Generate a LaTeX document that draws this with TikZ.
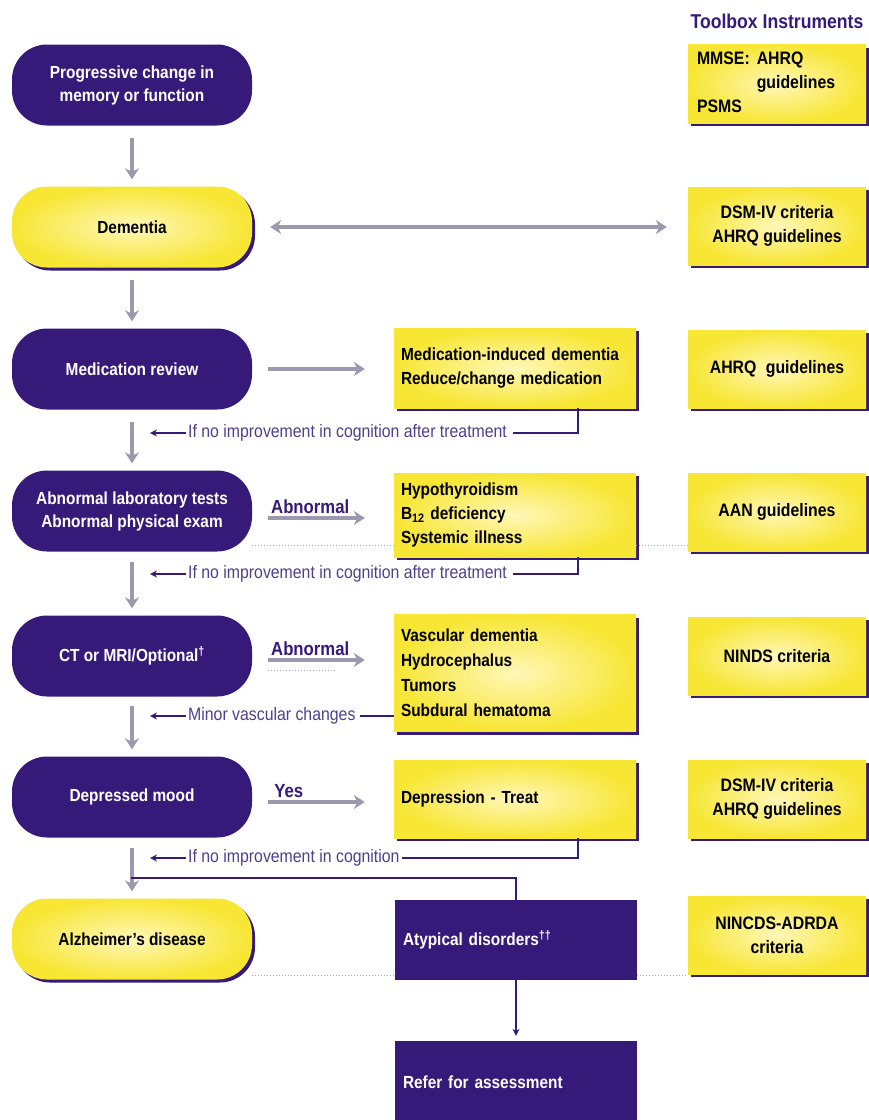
\documentclass[tikz,border=0pt]{standalone}
\usepackage{fontspec}
\setmainfont{Liberation Sans}[FakeStretch=0.88]
\usetikzlibrary{arrows.meta,shadows,calc}
\definecolor{pur}{HTML}{361A7A}
\definecolor{yel}{HTML}{F7E634}
\definecolor{yelc}{HTML}{FFF7B8}
\definecolor{garr}{HTML}{9C98AE}
\definecolor{fbc}{HTML}{4E3F8C}
\definecolor{dotc}{HTML}{A8A4C0}
\tikzset{
  fsize/.style={font=\bfseries\fontsize{17.5}{23}\selectfont},
  pbox/.style={rounded corners=35pt, fill=pur, text=white, minimum width=240pt, minimum height=81pt, align=center, fsize},
  ybox/.style={rounded corners=35pt, inner color=yelc, outer color=yel, text=black, minimum width=240pt, minimum height=81pt, align=center, fsize,
    drop shadow={shadow xshift=3pt, shadow yshift=-3pt, fill=pur, opacity=1}},
  midbox/.style={inner color=yelc, outer color=yel, text=black, text width=228pt, inner xsep=7pt, align=left,
    font=\bfseries\fontsize{17.5}{24}\selectfont,
    drop shadow={shadow xshift=3pt, shadow yshift=-3pt, fill=pur, opacity=1}},
  pmid/.style={fill=pur, text=white, text width=226pt, inner xsep=8pt, align=left, minimum height=80pt, fsize},
  tbox/.style={inner color=yelc, outer color=yel, text=black, minimum width=178pt, minimum height=78pt, align=center,
    font=\bfseries\fontsize{18}{24}\selectfont,
    drop shadow={shadow xshift=3pt, shadow yshift=-3pt, fill=pur, opacity=1}},
  garrow/.style={draw=garr, line width=3.2pt, -{Stealth[length=11pt,width=14pt]}},
  gdarrow/.style={draw=garr, line width=3.2pt, {Stealth[length=11pt,width=14pt]}-{Stealth[length=11pt,width=14pt]}},
  fb/.style={draw=pur, line width=1.4pt},
  fbarr/.style={draw=pur, line width=1.4pt, -{Stealth[length=7pt,width=7pt]}},
  fbl/.style={text=fbc, font=\fontsize{18}{19}\selectfont, inner sep=2pt},
  lbl/.style={text=pur, font=\bfseries\fontsize{19}{22}\selectfont, inner sep=1pt},
  dotline/.style={draw=dotc, line width=1pt, dotted},
}
\begin{document}
\begin{tikzpicture}[x=1pt,y=-1pt]
\useasboundingbox (0,0) rectangle (869,1120);
% title
\node[text=pur, font=\bfseries\fontsize{20}{24}\selectfont] (title) at (777,21) {Toolbox Instruments};
% left column
\node[pbox] (n1) at (132,85) {Progressive change in\\memory or function};
\node[ybox] (dem) at (132,227) {Dementia};
\node[pbox] (medrev) at (132,369) {Medication review};
\node[pbox] (lab) at (132,511) {Abnormal laboratory tests\\Abnormal physical exam};
\node[pbox] (ct) at (132,656) {CT or MRI/Optional\textsuperscript{†}};
\node[pbox] (dep) at (132,797) {Depressed mood};
\node[ybox] (alz) at (132,939) {Alzheimer's disease};
% middle column
\node[midbox, minimum height=80pt] (mid1) at (515,368) {Medication-induced dementia\\Reduce/change medication};
\node[midbox, minimum height=84pt] (mid2) at (515,515) {Hypothyroidism\\B\textsubscript{12} deficiency\\Systemic illness};
\node[midbox, minimum height=117pt, font=\bfseries\fontsize{17.5}{25}\selectfont] (mid3) at (515,673) {Vascular dementia\\Hydrocephalus\\Tumors\\Subdural hematoma};
\node[midbox, minimum height=78pt] (mid4) at (515,799) {Depression - Treat};
\node[pmid] (atyp) at (516,940) {Atypical disorders\textsuperscript{††}};
\node[pmid, minimum height=82pt] (refer) at (516,1082) {Refer for assessment};
% toolbox column
\node[tbox, text width=160pt, inner xsep=9pt, align=left] (t1) at (777,84) {\begin{tabular}{@{}l@{\hspace{7pt}}l@{}}MMSE: & AHRQ\\ & guidelines\\ PSMS & \end{tabular}};
\node[tbox] (t2) at (777,226) {DSM-IV criteria\\AHRQ guidelines};
\node[tbox] (t3) at (777,369) {AHRQ\hspace{5pt} guidelines};
\node[tbox] (t4) at (777,512) {AAN guidelines};
\node[tbox] (t5) at (777,656) {NINDS criteria};
\node[tbox] (t6) at (777,799) {DSM-IV criteria\\AHRQ guidelines};
\node[tbox] (t7) at (777,935) {NINCDS-ADRDA\\criteria};
% vertical gray arrows
\draw[garrow, shorten <=12pt, shorten >=7pt] (n1.south) -- (dem.north);
\draw[garrow, shorten <=12pt, shorten >=7pt] (dem.south) -- (medrev.north);
\draw[garrow, shorten <=12pt, shorten >=7pt] (medrev.south) -- (lab.north);
\draw[garrow, shorten <=10pt, shorten >=7pt] (lab.south) -- (ct.north);
\draw[garrow, shorten <=9pt, shorten >=7pt] (ct.south) -- (dep.north);
\draw[garrow, shorten <=10pt, shorten >=7pt] (dep.south) -- (alz.north);
% double arrow
\draw[gdarrow, shorten <=18pt, shorten >=21pt] (dem.east) -- (dem.east -| t2.west);
% horizontal arrows
\draw[garrow, shorten <=16pt, shorten >=29pt] (medrev.east) -- (medrev.east -| mid1.west);
\coordinate (la) at ($(lab.east)+(0,7)$);
\draw[garrow, shorten <=16pt, shorten >=29pt] (la) -- (la -| mid2.west);
\node[lbl, anchor=south] (abn1) at ($(la)+(58,-3)$) {Abnormal};
\coordinate (ca) at ($(ct.east)+(0,4)$);
\draw[garrow, shorten <=16pt, shorten >=29pt] (ca) -- (ca -| mid3.west);
\node[lbl, anchor=south] (abn2) at ($(ca)+(58,-3)$) {Abnormal};
\coordinate (da) at ($(dep.east)+(0,5)$);
\draw[garrow, shorten <=16pt, shorten >=29pt] (da) -- (da -| mid4.west);
\node[lbl, anchor=south west] (yes) at ($(da)+(21,-3)$) {Yes};
% feedback lines
\coordinate (colx) at (150,0);
\node[fbl, anchor=west] (fb1) at (186,433) {If no improvement in cognition after treatment};
\coordinate (f1s) at ($(mid1.south)+(63,0)$);
\draw[fb] (f1s) |- ([xshift=4pt]fb1.east);
\draw[fbarr] (fb1.west) -- (fb1.west -| colx);
\node[fbl, anchor=west] (fb2) at (186,574) {If no improvement in cognition after treatment};
\coordinate (f2s) at ($(mid2.south)+(63,0)$);
\draw[fb] (f2s) |- ([xshift=4pt]fb2.east);
\draw[fbarr] (fb2.west) -- (fb2.west -| colx);
\node[fbl, anchor=west] (fb3) at (186,716) {Minor vascular changes};
\draw[fb] ([xshift=2pt]fb3.east) -- (fb3.east -| mid3.west);
\draw[fbarr] (fb3.west) -- (fb3.west -| colx);
\node[fbl, anchor=west] (fb4) at (186,858) {If no improvement in cognition};
\coordinate (f4s) at ($(mid4.south)+(63,0)$);
\draw[fb] (f4s) |- (fb4.east);
\draw[fbarr] (fb4.west) -- (fb4.west -| colx);
% junction to atypical
\coordinate (jn) at (131,878);
\draw[fb] (jn) -| (atyp.north);
\draw[fbarr, shorten >=5pt] (atyp.south) -- (refer.north);
% dotted guide lines
\coordinate (d1) at (0,545);
\coordinate (d2) at (0,975);
\coordinate (d3) at (0,670);
\draw[dotline] (lab.east |- d1) -- (mid2.west |- d1);
\draw[dotline] (mid2.east |- d1) -- (t4.west |- d1);
\draw[dotline] (alz.east |- d2) -- (atyp.west |- d2);
\draw[dotline] (atyp.east |- d2) -- (t7.west |- d2);
\draw[dotline] ([xshift=16pt]ct.east |- d3) -- ([xshift=84pt]ct.east |- d3);
\end{tikzpicture}
\end{document}
